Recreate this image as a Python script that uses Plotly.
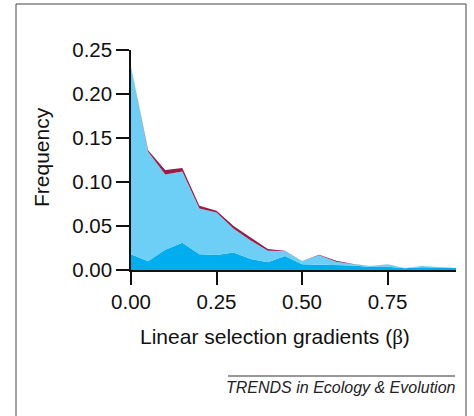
import plotly.graph_objects as go

# Bin centres (linear selection gradient beta)
beta_bins = [0.00, 0.05, 0.10, 0.15, 0.20, 0.25, 0.30, 0.35, 0.40, 0.45,
             0.50, 0.55, 0.60, 0.65, 0.70, 0.75, 0.80, 0.85, 0.90, 0.95]
# Stacked frequency layers (bottom -> top)
freq_dark = [0.018, 0.010, 0.023, 0.031, 0.018, 0.017, 0.020, 0.0125, 0.0087, 0.016,
             0.0064, 0.0057, 0.005, 0.005, 0.0034, 0.0038, 0.002, 0.003, 0.0028, 0.0023]
freq_light = [0.213, 0.1245, 0.0856, 0.081, 0.052, 0.0484, 0.027, 0.021, 0.0133, 0.0055,
              0.0038, 0.011, 0.0045, 0.0014, 0.0011, 0.0026, 0.0003, 0.0015, 0.0006, 0.0]
freq_red = [0.0, 0.0015, 0.005, 0.004, 0.003, 0.002, 0.003, 0.0035, 0.002, 0.0005,
            0.0, 0.0005, 0.001, 0.0005, 0.0, 0.0, 0.0, 0.0, 0.0, 0.0]
y_ticks = [0.00, 0.05, 0.10, 0.15, 0.20, 0.25]
x_ticks = [0.00, 0.25, 0.50, 0.75]

W, H = 474, 416
L, R, T, B = 131, 18, 50, 146
PW, PH = W - L - R, H - T - B


def px(xp):
    return (xp - L) / PW


def py(yp):
    return (H - B - yp) / PH


FONT = "Liberation Sans, Arial, Helvetica, sans-serif"

fig = go.Figure()
for vals, col in [(freq_dark, "#00AEEF"), (freq_light, "#6DCFF5"), (freq_red, "#9B1C47")]:
    fig.add_trace(go.Scatter(x=beta_bins, y=vals, mode="lines", stackgroup="one",
                             line=dict(width=0, color=col), fillcolor=col,
                             hoverinfo="skip", showlegend=False))

fig.update_layout(
    width=W, height=H, autosize=False,
    margin=dict(l=L, r=R, t=T, b=B, pad=0),
    paper_bgcolor="white", plot_bgcolor="white",
    font=dict(family=FONT, color="#111", size=20.5),
    showlegend=False,
    xaxis=dict(range=[0, 0.95], tickvals=x_ticks, tickformat=".2f",
               showline=True, linecolor="#111", linewidth=1.5,
               ticks="outside", ticklen=13, tickwidth=1.5, tickcolor="#111",
               showgrid=False, zeroline=False, fixedrange=True),
    yaxis=dict(range=[0, 0.25], tickvals=y_ticks, tickformat=".2f",
               showline=True, linecolor="#111", linewidth=1.5,
               ticks="outside", ticklen=13, tickwidth=1.5, tickcolor="#111",
               showgrid=False, zeroline=False, fixedrange=True),
)

# Frame around the whole figure
fig.add_shape(type="rect", xref="paper", yref="paper",
              x0=px(16), x1=px(466), y0=py(440), y1=py(4),
              line=dict(color="#444", width=1), layer="above")
# Rule above the journal caption
fig.add_shape(type="line", xref="paper", yref="paper",
              x0=px(228), x1=px(455), y0=py(376), y1=py(376),
              line=dict(color="#333", width=1))

fig.add_annotation(xref="paper", yref="paper", x=px(275), y=py(337),
                   text='Linear selection gradients (<span style="font-family:Liberation Serif, Times New Roman, serif">β</span>)',
                   showarrow=False, font=dict(size=21, family=FONT, color="#111"),
                   xanchor="center", yanchor="middle")
fig.add_annotation(xref="paper", yref="paper", x=px(41), y=py(157),
                   text="Frequency", textangle=-90,
                   showarrow=False, font=dict(size=21, family=FONT, color="#111"),
                   xanchor="center", yanchor="middle")
fig.add_annotation(xref="paper", yref="paper", x=px(341), y=py(387),
                   text="<i>TRENDS in Ecology &amp; Evolution</i>",
                   showarrow=False, font=dict(size=16, family=FONT, color="#222"),
                   xanchor="center", yanchor="middle")

fig.write_html("out.html", config={"displayModeBar": False},
               post_script="document.body.style.margin='0';document.body.style.overflow='hidden';")
